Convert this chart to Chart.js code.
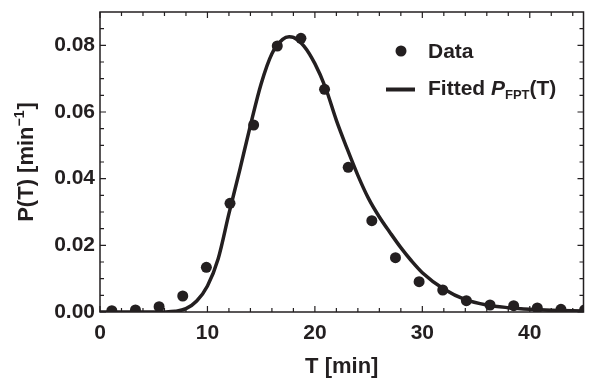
<!DOCTYPE html>
<html>
<head>
<meta charset="utf-8">
<script src="https://cdn.jsdelivr.net/npm/chart.js@4.4.1/dist/chart.umd.min.js"></script>
<style>
  html, body { margin: 0; padding: 0; background: #fff; }
  #wrap { width: 589px; height: 386px; }
</style>
</head>
<body>
<div id="wrap"><canvas id="fptChart" width="589" height="386"></canvas></div>
<script>
// measured histogram points
const dataT = [1.1, 3.3, 5.5, 7.7, 9.9, 12.1, 14.3, 16.5, 18.7, 20.9, 23.1, 25.3, 27.5, 29.7, 31.9, 34.1, 36.3, 38.5, 40.7, 42.9, 45.1];
const dataP = [0.0004, 0.0006, 0.0016, 0.0048, 0.0134, 0.0326, 0.0561, 0.0798, 0.0821, 0.0668, 0.0434, 0.0274, 0.0163, 0.0091, 0.0066, 0.0034, 0.0021, 0.0019, 0.0012, 0.0008, 0.0006];

// fitted curve
const fitT = [0, 4, 6, 7, 8, 9, 10, 11, 12, 13, 14, 15, 16, 17, 17.6, 18, 19, 20, 21, 22, 23, 24, 25, 26, 27, 28, 29, 30, 32, 34, 36, 38, 40, 42, 45];
const fitP = [0, 0, 0.00003, 0.0002, 0.0010, 0.0033, 0.0078, 0.0160, 0.0295, 0.0425, 0.0560, 0.0685, 0.0775, 0.0818, 0.0826, 0.0824, 0.0797, 0.0745, 0.0672, 0.0575, 0.0490, 0.0410, 0.0340, 0.0285, 0.0238, 0.0193, 0.0153, 0.0118, 0.0069, 0.0037, 0.0021, 0.0013, 0.0008, 0.0005, 0.0003];

const xTicks = [0, 10, 20, 30, 40];
const yTicks = [0, 0.02, 0.04, 0.06, 0.08];
const xMinorTicks = [2, 4, 6, 8, 12, 14, 16, 18, 22, 24, 26, 28, 32, 34, 36, 38, 42, 44];
const yMinorTicks = [0.005, 0.01, 0.015, 0.025, 0.03, 0.035, 0.045, 0.05, 0.055, 0.065, 0.07, 0.075, 0.085];

const ink = '#231f20';
const fontFamily = '"Liberation Sans", Arial, Helvetica, sans-serif';

const frameTicks = {
  id: 'frameTicks',
  beforeDatasetsDraw(chart) {
    const { ctx, chartArea: a, scales: { x, y } } = chart;
    ctx.save();
    ctx.strokeStyle = ink;
    ctx.lineWidth = 1.5;
    ctx.strokeRect(a.left, a.top, a.right - a.left, a.bottom - a.top);
    ctx.lineWidth = 1.2;
    const tickX = (v, len) => {
      const px = x.getPixelForValue(v);
      ctx.beginPath();
      ctx.moveTo(px, a.bottom); ctx.lineTo(px, a.bottom - len);
      ctx.moveTo(px, a.top); ctx.lineTo(px, a.top + len);
      ctx.stroke();
    };
    const tickY = (v, len) => {
      const py = y.getPixelForValue(v);
      ctx.beginPath();
      ctx.moveTo(a.left, py); ctx.lineTo(a.left + len, py);
      ctx.moveTo(a.right, py); ctx.lineTo(a.right - len, py);
      ctx.stroke();
    };
    xTicks.forEach((v) => tickX(v, 6));
    xMinorTicks.forEach((v) => tickX(v, 4));
    yTicks.forEach((v) => tickY(v, 6));
    yMinorTicks.forEach((v) => tickY(v, 4));
    ctx.restore();
  },
};

const labelsAndLegend = {
  id: 'labelsAndLegend',
  afterDraw(chart) {
    const { ctx, chartArea: a } = chart;
    ctx.save();
    ctx.fillStyle = ink;
    ctx.textBaseline = 'alphabetic';

    // y axis title with superscript
    const big = `bold 22px ${fontFamily}`;
    const small = `bold 14px ${fontFamily}`;
    ctx.font = big;
    const w1 = ctx.measureText('P(T) [min').width;
    const w3 = ctx.measureText(']').width;
    ctx.font = small;
    const w2 = ctx.measureText('\u22121').width;
    const total = w1 + w2 + w3 + 1;
    ctx.translate(33, (a.top + a.bottom) / 2);
    ctx.rotate(-Math.PI / 2);
    let cx = -total / 2;
    ctx.font = big;
    ctx.textAlign = 'left';
    ctx.fillText('P(T) [min', cx, 0);
    cx += w1;
    ctx.font = small;
    ctx.fillText('\u22121', cx, -9);
    cx += w2 + 1;
    ctx.font = big;
    ctx.fillText(']', cx, 0);
    ctx.setTransform(1, 0, 0, 1, 0, 0);

    // legend
    ctx.beginPath();
    ctx.arc(401, 51, 5.5, 0, Math.PI * 2);
    ctx.fill();
    ctx.font = `bold 21px ${fontFamily}`;
    ctx.fillText('Data', 428, 58);

    ctx.strokeStyle = ink;
    ctx.lineWidth = 4;
    ctx.beginPath();
    ctx.moveTo(386, 89.5);
    ctx.lineTo(415, 89.5);
    ctx.stroke();

    let lx = 428;
    ctx.font = `bold 21px ${fontFamily}`;
    ctx.fillText('Fitted ', lx, 95);
    lx += ctx.measureText('Fitted ').width;
    ctx.font = `italic bold 21px ${fontFamily}`;
    ctx.fillText('P', lx, 95);
    lx += ctx.measureText('P').width;
    ctx.font = `bold 13px ${fontFamily}`;
    ctx.fillText('FPT', lx, 99);
    lx += ctx.measureText('FPT').width;
    ctx.font = `bold 21px ${fontFamily}`;
    ctx.fillText('(T)', lx, 95);
    ctx.restore();
  },
};

new Chart(document.getElementById('fptChart'), {
  type: 'scatter',
  data: {
    datasets: [
      {
        label: 'Data',
        data: dataT.map((t, i) => ({ x: t, y: dataP[i] })),
        backgroundColor: ink,
        borderWidth: 0,
        pointRadius: 5.5,
        pointHoverRadius: 5.5,
        showLine: false,
      },
      {
        label: 'Fitted',
        data: fitT.map((t, i) => ({ x: t, y: fitP[i] })),
        borderColor: ink,
        borderWidth: 3.5,
        pointRadius: 0,
        showLine: true,
        cubicInterpolationMode: 'monotone',
      },
    ],
  },
  options: {
    responsive: false,
    animation: false,
    devicePixelRatio: 1,
    layout: { padding: { top: 12, right: 3, left: 0, bottom: 0 } },
    plugins: {
      legend: { display: false },
      tooltip: { enabled: false },
    },
    scales: {
      x: {
        type: 'linear',
        min: 0,
        max: 45,
        grid: { display: false, drawTicks: false },
        border: { display: false },
        afterBuildTicks: (s) => { s.ticks = xTicks.map((v) => ({ value: v })); },
        afterFit: (s) => { s.height = 74; s.paddingLeft = 0; s.paddingRight = 0; },
        ticks: {
          color: ink,
          padding: 9,
          maxRotation: 0,
          font: { family: fontFamily, size: 21, weight: 'bold' },
          callback: (v) => String(v),
        },
        title: {
          display: true,
          text: 'T [min]',
          color: ink,
          padding: { top: 0, bottom: 6 },
          font: { family: fontFamily, size: 22, weight: 'bold' },
        },
      },
      y: {
        min: 0,
        max: 0.09,
        grid: { display: false, drawTicks: false },
        border: { display: false },
        afterBuildTicks: (s) => { s.ticks = yTicks.map((v) => ({ value: v })); },
        afterFit: (s) => { s.width = 100; s.paddingTop = 0; s.paddingBottom = 0; },
        ticks: {
          color: ink,
          padding: 5,
          font: { family: fontFamily, size: 21, weight: 'bold' },
          callback: (v) => Number(v).toFixed(2),
        },
      },
    },
  },
  plugins: [frameTicks, labelsAndLegend],
});
</script>
</body>
</html>
